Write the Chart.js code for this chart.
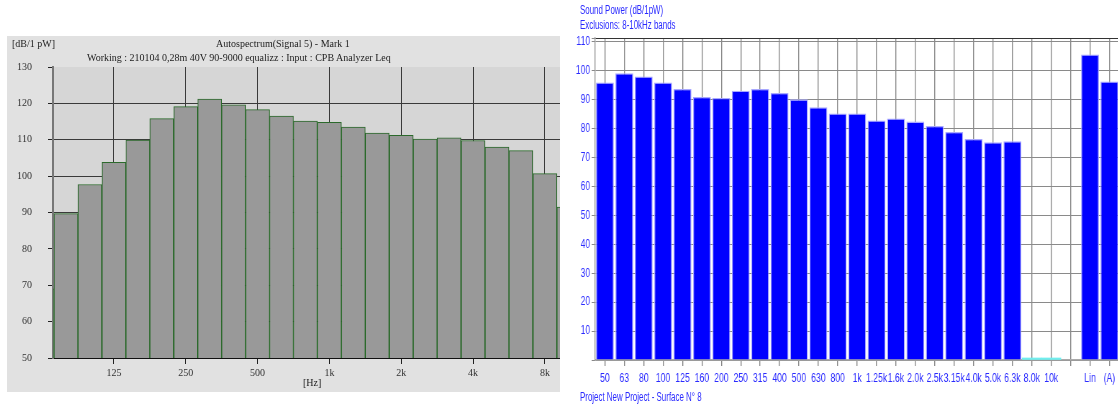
<!DOCTYPE html>
<html>
<head>
<meta charset="utf-8">
<script src="https://cdn.jsdelivr.net/npm/chart.js@4/dist/chart.umd.min.js"></script>
<style>
html, body { margin: 0; padding: 0; background: #fff; overflow: hidden; width: 1118px; height: 405px; }
#leftPanel { position: absolute; left: 7px; top: 36px; width: 553px; height: 356px; background: #e1e1e1; }
#rightPanel { position: absolute; left: 570px; top: 0; width: 552px; height: 405px; }
#leftChart { position: absolute; left: 0; top: 0; }
#rightChart { position: absolute; left: 0; top: 0; }
.serif { position: absolute; font-family: 'Liberation Serif', 'Times New Roman', serif; font-size: 10px; color: #222; white-space: nowrap; line-height: 12px; }
.blue { position: absolute; font-family: 'Liberation Sans', Arial, sans-serif; font-size: 12px; color: #2a2aff; white-space: nowrap; line-height: 14px; transform: scaleX(0.66); transform-origin: 0 0; }
</style>
</head>
<body>
<div id="leftPanel">
    <canvas id="leftChart" width="553" height="356"></canvas>
    <div class="serif" style="left:5px;top:2px;">[dB/1 pW]</div>
    <div class="serif" style="left:209px;top:2px;">Autospectrum(Signal 5) - Mark 1</div>
    <div class="serif" style="left:80px;top:16px;">Working : 210104 0,28m 40V 90-9000 equalizz : Input : CPB Analyzer Leq</div>
    <div class="serif" style="left:296px;top:341px;">[Hz]</div>
</div>
<div id="rightPanel">
    <!-- 右图用窄字体的效果: 画布整体水平压缩 -->
    <canvas id="rightChart" width="767" height="405" style="width:552px;height:405px;"></canvas>
    <div class="blue" style="left:10px;top:3px;">Sound Power (dB/1pW)</div>
    <div class="blue" style="left:10px;top:18px;">Exclusions: 8-10kHz bands</div>
    <div class="blue" style="left:10px;top:390px;">Project New Project - Surface N° 8</div>
</div>
<script>
// 左图: 1/3 倍频程自功率谱
const leftBands = ['63', '80', '100', '125', '160', '200', '250', '315', '400', '500', '630', '800',
    '1k', '1.25k', '1.6k', '2k', '2.5k', '3.15k', '4k', '5k', '6.3k', '8k', '10k'];
const leftLevels = [69, 89.7, 97.7, 103.8, 109.9, 115.8, 119.1, 121.2, 119.6, 118.3, 116.5, 115.1,
    114.8, 113.5, 111.8, 111.2, 110.2, 110.5, 109.8, 108.0, 107.0, 100.7, 91.5];
const leftTickLabels = ['125', '250', '500', '1k', '2k', '4k', '8k'];
const leftYTicks = [50, 60, 70, 80, 90, 100, 110, 120, 130];

// 右图: 声功率
const rightBands = ['50', '63', '80', '100', '125', '160', '200', '250', '315', '400', '500', '630', '800',
    '1k', '1.25k', '1.6k', '2.0k', '2.5k', '3.15k', '4.0k', '5.0k', '6.3k', '8.0k', '10k', '', 'Lin', '(A)'];
const rightLevels = [95.9, 99.1, 98.0, 95.9, 93.7, 90.9, 90.6, 93.1, 93.7, 92.3, 90.1, 87.4, 85.2,
    85.2, 82.8, 83.5, 82.4, 80.9, 78.8, 76.4, 75.3, 75.6, null, null, null, 105.6, 96.3];
const excludedLevels = [null, null, null, null, null, null, null, null, null, null, null, null, null,
    null, null, null, null, null, null, null, null, null, 0.7, 0.7, null, null, null];
const rightYTicks = [0, 10, 20, 30, 40, 50, 60, 70, 80, 90, 100, 110];

const serifFont = { family: "'Liberation Serif', 'Times New Roman', serif", size: 10 };
const sansFont = { family: "'Liberation Sans', Arial, sans-serif", size: 12 };

// 绘图区背景
const plotBg = {
    id: 'plotBg',
    beforeDraw(chart, args, opts) {
        const a = chart.chartArea;
        chart.ctx.save();
        chart.ctx.fillStyle = opts.color;
        chart.ctx.fillRect(a.left, a.top, a.right - a.left, a.bottom - a.top);
        chart.ctx.restore();
    }
};

new Chart(document.getElementById('leftChart').getContext('2d'), {
    type: 'bar',
    plugins: [plotBg],
    data: {
        datasets: [{
            data: leftLevels.map((v, i) => ({ x: i, y: v })),
            backgroundColor: '#999999',
            borderColor: '#2c6a2c',
            borderWidth: 1,
            barPercentage: 1,
            categoryPercentage: 1
        }]
    },
    options: {
        responsive: false,
        animation: false,
        layout: { padding: { top: 31, left: 0, right: 0, bottom: 0 } },
        plugins: {
            legend: { display: false },
            tooltip: { enabled: false },
            plotBg: { color: '#d6d6d6' }
        },
        scales: {
            x: {
                type: 'linear',
                offset: false,
                min: 0.457,
                max: 21.63,
                afterBuildTicks: s => { s.ticks = leftTickLabels.map(l => ({ value: leftBands.indexOf(l) })); },
                afterFit: s => { s.height = 34; },
                ticks: {
                    callback: v => leftBands[v],
                    color: '#333',
                    font: serifFont,
                    padding: 3,
                    maxRotation: 0,
                    autoSkip: false
                },
                grid: { offset: false, color: '#3a3a3a', tickColor: '#222', tickLength: 6 },
                border: { color: '#111', width: 1 }
            },
            y: {
                min: 50,
                max: 130,
                afterBuildTicks: s => { s.ticks = leftYTicks.map(v => ({ value: v })); },
                afterFit: s => { s.width = 46; },
                ticks: { color: '#333', font: serifFont, padding: 16 },
                grid: {
                    color: c => (c.tick && c.tick.value === 130) ? 'rgba(0,0,0,0)' : '#3a3a3a',
                    tickColor: '#222',
                    tickLength: 5
                },
                border: { color: '#777', width: 2 }
            }
        }
    }
});

new Chart(document.getElementById('rightChart').getContext('2d'), {
    type: 'bar',
    data: {
        labels: rightBands,
        datasets: [{
            data: rightLevels,
            backgroundColor: '#0000ff',
            borderColor: '#a8a8ff',
            borderWidth: 1.3,
            barPercentage: 0.92,
            categoryPercentage: 1,
            grouped: false
        }, {
            data: excludedLevels,
            backgroundColor: '#70eeee',
            borderWidth: 0,
            barPercentage: 1,
            categoryPercentage: 1,
            grouped: false
        }]
    },
    options: {
        responsive: false,
        animation: false,
        layout: { padding: { top: 38, left: 0, right: 4, bottom: 0 } },
        plugins: {
            legend: { display: false },
            tooltip: { enabled: false }
        },
        scales: {
            x: {
                offset: true,
                afterFit: s => { s.height = 45; },
                ticks: { color: '#2a2aff', font: sansFont, padding: 5, maxRotation: 0, minRotation: 0, autoSkip: false },
                grid: { offset: false, color: '#8a8a8a', lineWidth: 1.4, tickColor: '#888', tickLength: 6 },
                border: { color: '#aaa', width: 1.4 }
            },
            y: {
                min: 0,
                max: 111.3,
                afterBuildTicks: s => { s.ticks = rightYTicks.map(v => ({ value: v })).concat([{ value: s.max }]); },
                afterFit: s => { s.width = 35; },
                ticks: {
                    color: '#2a2aff',
                    font: sansFont,
                    padding: 2,
                    callback: v => (v === 0 || v > 110) ? '' : v
                },
                grid: {
                    color: c => (c.tick && c.tick.value > 110) ? '#333' : '#8a8a8a',
                    tickColor: '#888',
                    tickLength: 5
                },
                border: { color: '#999', width: 1.4 }
            }
        }
    }
});
</script>
</body>
</html>
